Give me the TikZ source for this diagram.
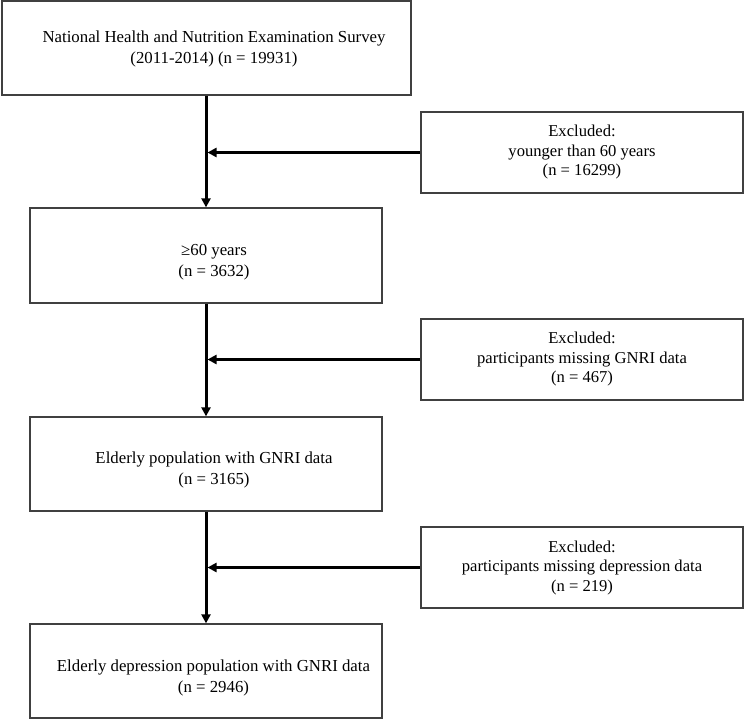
\documentclass[tikz,border=0pt]{standalone}
\usepackage{fontspec}
\setmainfont{Liberation Serif}
\usetikzlibrary{arrows.meta,calc}
\begin{document}
\begin{tikzpicture}[x=1pt,y=1pt,
  mainbox/.style={draw=black!75,line width=1.3pt,minimum width=352pt,minimum height=94pt,inner sep=0pt},
  exbox/.style={draw=black!75,line width=1.3pt,minimum width=322pt,minimum height=81pt,inner sep=0pt,align=center,font=\fontsize{16.6pt}{19.5pt}\selectfont},
  txt/.style={align=center,inner sep=0pt,font=\fontsize{16.8pt}{21pt}\selectfont},
  flow/.style={line width=3pt,-{Triangle[length=9pt,width=9pt]}},
  side/.style={line width=3pt,-{Triangle[length=9pt,width=9pt]}}]
\useasboundingbox (0,0) rectangle (744,-720);
% main boxes
\node[mainbox,minimum width=409pt] (n1) at (206.5,-48) {};
\node[mainbox,minimum height=95pt] (n2) at (206,-255.5) {};
\node[mainbox] (n3) at (206,-464) {};
\node[mainbox] (n4) at (206,-671) {};
% texts of main boxes
\node[txt] (t1) at (214,-48.5) {National Health and Nutrition Examination Survey\\(2011-2014) (n = 19931)};
\node[txt] (t2) at (214,-262) {≥60 years\\(n = 3632)};
\node[txt] (t3) at (214,-469.5) {Elderly population with GNRI data\\(n = 3165)};
\node[txt] (t4) at (213.5,-677.5) {Elderly depression population with GNRI data\\(n = 2946)};
% exclusion boxes
\node[exbox] (e1) at (582,-152.5) {Excluded:\\younger than 60 years\\(n = 16299)};
\node[exbox] (e2) at (582,-359.5) {Excluded:\\participants missing GNRI data\\(n = 467)};
\node[exbox] (e3) at (582,-567.5) {Excluded:\\participants missing depression data\\(n = 219)};
% vertical flow
\draw[flow] (n1.south -| n2.north) -- (n2.north);
\draw[flow] (n2.south) -- (n3.north);
\draw[flow] (n3.south) -- (n4.north);
% side arrows
\draw[side] (e1.west) -- ([xshift=1.5pt]e1.west -| n2.north);
\draw[side] (e2.west) -- ([xshift=1.5pt]e2.west -| n2.north);
\draw[side] (e3.west) -- ([xshift=1.5pt]e3.west -| n2.north);
\end{tikzpicture}
\end{document}
